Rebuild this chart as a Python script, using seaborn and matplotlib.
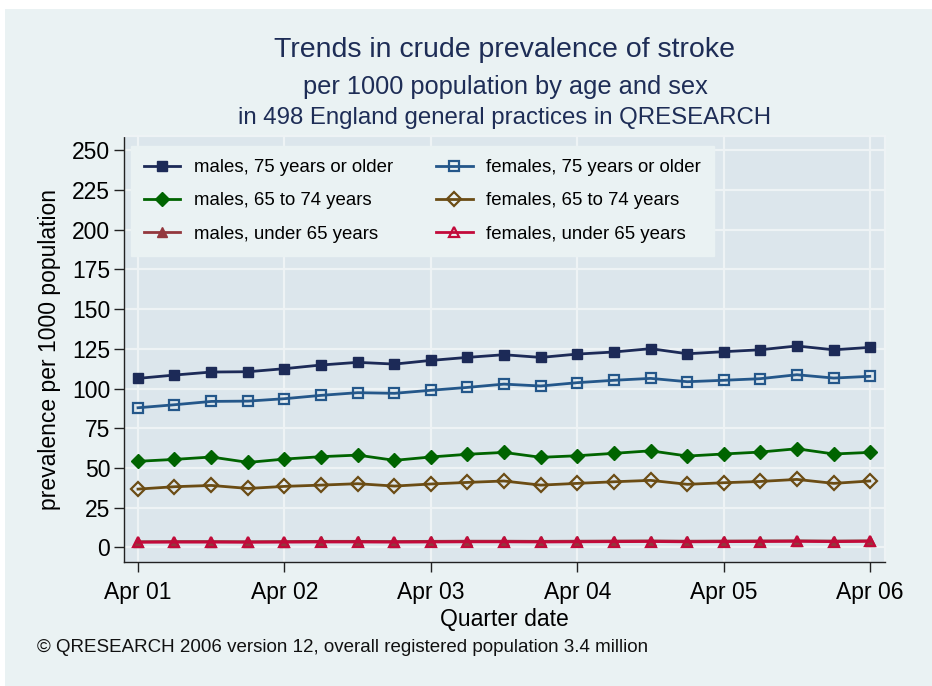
import pandas as pd
import matplotlib.pyplot as plt
import matplotlib.dates as mdates
from matplotlib.patches import Rectangle
import seaborn as sns

# quarterly dates, Apr 2001 to Apr 2006
quarters = pd.date_range("2001-04-01", "2006-04-01", freq="QS-APR")

# crude prevalence per 1000 population
males_75 = [106.4, 108.5, 110.4, 110.6, 112.5, 114.8, 116.5, 115.4, 117.7, 119.6, 121.3,
            119.6, 121.7, 123.0, 125.1, 121.9, 123.2, 124.4, 126.8, 124.4, 125.9]
females_75 = [87.9, 89.8, 91.9, 92.1, 93.6, 95.7, 97.4, 97.0, 98.9, 100.7, 102.8,
              101.6, 103.7, 105.2, 106.4, 104.3, 105.2, 106.2, 108.7, 106.6, 107.7]
males_65_74 = [54.2, 55.4, 56.9, 53.5, 55.6, 57.1, 58.1, 54.8, 56.9, 58.6, 59.8,
               56.7, 57.7, 59.2, 60.8, 57.5, 58.8, 60.0, 62.1, 58.8, 59.8]
females_65_74 = [36.7, 38.2, 39.0, 37.1, 38.4, 39.2, 40.1, 38.6, 39.9, 40.9, 41.8,
                 39.2, 40.3, 41.3, 42.2, 39.7, 40.7, 41.5, 42.8, 40.3, 41.8]
males_under65 = [3.6, 3.7, 3.7, 3.6, 3.7, 3.8, 3.8, 3.7, 3.8, 3.9, 3.9,
                 3.8, 3.9, 4.0, 4.1, 3.9, 4.0, 4.1, 4.2, 4.0, 4.2]
females_under65 = [3.2, 3.3, 3.3, 3.2, 3.3, 3.4, 3.4, 3.3, 3.4, 3.5, 3.5,
                   3.4, 3.5, 3.6, 3.7, 3.5, 3.6, 3.7, 3.8, 3.6, 3.8]

labels = ["males, 75 years or older", "females, 75 years or older",
          "males, 65 to 74 years", "females, 65 to 74 years",
          "males, under 65 years", "females, under 65 years"]
series = [males_75, females_75, males_65_74, females_65_74, males_under65, females_under65]

# colour, marker, filled?
styles = [("#1C2A57", "s", True), ("#24578A", "s", False),
          ("#006400", "D", True), ("#6B4C14", "D", False),
          ("#93373D", "^", True), ("#C20A3A", "^", False)]

plt.rcParams["font.family"] = ["Liberation Sans", "DejaVu Sans"]

fig = plt.figure(figsize=(9.32, 6.86), dpi=100)
fig.patch.set_facecolor("white")
fig.patches.append(Rectangle((5 / 932, 0), 1, (686 - 9) / 686, transform=fig.transFigure,
                             facecolor="#EAF2F3", edgecolor="none", zorder=-10))
ax = fig.add_axes([124 / 932, 1 - 562 / 686, (885 - 124) / 932, (562 - 136) / 686])
ax.set_facecolor("#DCE6EC")

handles = {}
for lab, vals, (col, mk, filled) in zip(labels, series, styles):
    df = pd.DataFrame({"date": quarters, "value": vals})
    sns.lineplot(data=df, x="date", y="value", ax=ax, color=col, linewidth=2.0,
                 marker=mk, markersize=7.5,
                 markerfacecolor=col if filled else "none",
                 markeredgecolor=col, markeredgewidth=1.6 if not filled else 1.0,
                 label=lab)
    handles[lab] = ax.get_lines()[-1]

ax.set_ylim(-9.2, 259)
ax.set_xlim(quarters[0] - pd.Timedelta(days=35), quarters[-1] + pd.Timedelta(days=38))
ax.set_yticks(range(0, 251, 25))
ax.set_xticks(quarters[::4])
ax.xaxis.set_major_formatter(mdates.DateFormatter("%b %y"))

ax.grid(True, color="#EEF3F5", linewidth=1.6)
ax.set_axisbelow(True)
for side in ["top", "right"]:
    ax.spines[side].set_color("#EEF3F5")
    ax.spines[side].set_linewidth(1.6)
for side in ["left", "bottom"]:
    ax.spines[side].set_color("#222222")
    ax.spines[side].set_linewidth(1.0)
ax.tick_params(axis="both", labelsize=16.5, length=7, width=1.0, color="#222222", pad=3)
ax.tick_params(axis="x", pad=6.5)

ax.set_xlabel("Quarter date", fontsize=16.5, labelpad=3)
ax.set_ylabel("prevalence per 1000 population", fontsize=16.5, labelpad=8)

order = [labels[0], labels[2], labels[4], labels[1], labels[3], labels[5]]
leg = ax.legend([handles[l] for l in order], order, ncol=2, loc="upper left",
                bbox_to_anchor=((131 - 124) / 761, (562 - 146) / 426), borderaxespad=0,
                fontsize=13.4, frameon=True, fancybox=False, framealpha=1,
                facecolor="#EAF2F3", edgecolor="#EAF2F3", handlelength=1.95,
                handletextpad=0.75, columnspacing=2.3, labelspacing=0.88, borderpad=0.7)

title_col = "#1E2D56"
fig.text(505 / 932, 1 - 50 / 686, "Trends in crude prevalence of stroke", ha="center",
         va="center", fontsize=20.5, color=title_col)
fig.text(505 / 932, 1 - 87 / 686, "per 1000 population by age and sex", ha="center",
         va="center", fontsize=18.3, color=title_col)
fig.text(505 / 932, 1 - 118 / 686, "in 498 England general practices in QRESEARCH",
         ha="center", va="center", fontsize=17.3, color=title_col)
fig.text(37 / 932, 1 - 647 / 686,
         "\u00a9 QRESEARCH 2006 version 12, overall registered population 3.4 million",
         ha="left", va="center", fontsize=13.5, color="#111111")

fig.savefig("out.png", dpi=100, facecolor=fig.get_facecolor())
